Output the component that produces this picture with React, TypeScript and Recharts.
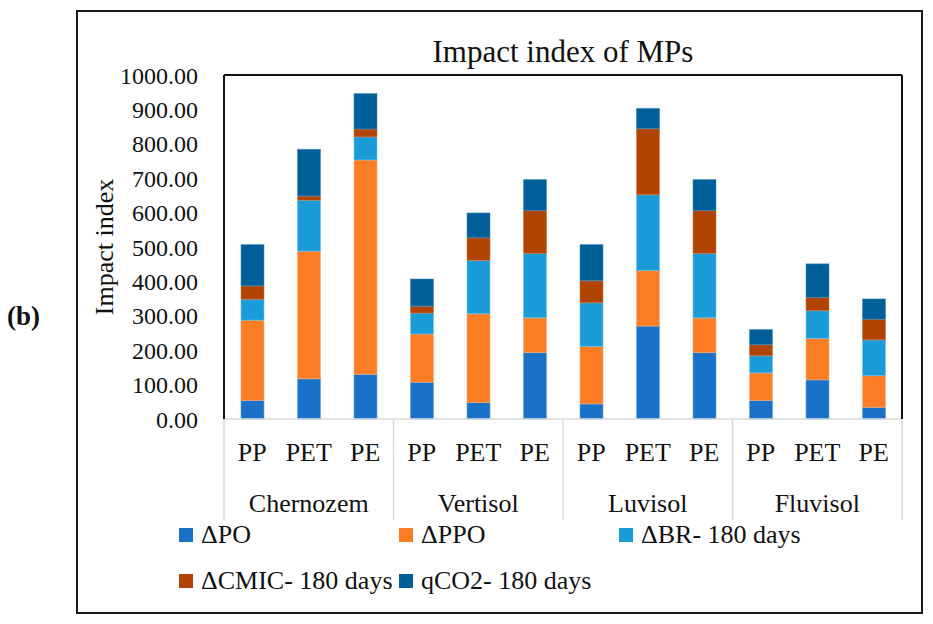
import React from 'react';
import { BarChart, Bar, XAxis, YAxis, Legend, ReferenceLine } from 'recharts';

const soils = ['Chernozem', 'Vertisol', 'Luvisol', 'Fluvisol'];
const plastics = ['PP', 'PET', 'PE'];

const deltaPO = [54, 117, 130, 107, 48, 193, 44, 270, 193, 54, 114, 34];
const deltaPPO = [233, 371, 623, 140, 258, 101, 167, 162, 101, 80, 120, 92];
const deltaBR = [61, 148, 67, 61, 155, 187, 127, 220, 187, 50, 81, 104];
const deltaCMIC = [39, 12, 23, 20, 66, 125, 64, 192, 125, 32, 38, 60];
const qCO2 = [120, 136, 103, 79, 72, 90, 105, 59, 90, 44, 98, 59];

const yTicks = [0, 100, 200, 300, 400, 500, 600, 700, 800, 900, 1000];

const seriesNames = ['ΔPO', 'ΔPPO', 'ΔBR- 180 days', 'ΔCMIC- 180 days', 'qCO2- 180 days'];
const seriesColors = ['#1a72c8', '#fd7d25', '#1b9cd8', '#b14400', '#005f97'];
const seriesStrokes = ['#5ea3e6', '#ffae70', '#6cc3ee', '#d5763f', '#3d8fc4'];

const FONT = "'Liberation Serif', 'Times New Roman', serif";

const data = soils.flatMap((soil, s) =>
  plastics.map((mp, p) => {
    const i = s * 3 + p;
    return {
      key: `${soil}-${mp}`,
      soil,
      mp,
      po: deltaPO[i],
      ppo: deltaPPO[i],
      br: deltaBR[i],
      cmic: deltaCMIC[i],
      qco2: qCO2[i],
    };
  })
);

const seriesKeys = ['po', 'ppo', 'br', 'cmic', 'qco2'];

const MpTick = (props: any) => {
  const { x, y, payload } = props;
  const idx = payload.index ?? props.index;
  const half = typeof payload.offset === 'number' && payload.offset > 0 ? payload.offset : 28.25;
  const row = data[idx];
  return (
    <g>
      {idx % 3 === 0 && (
        <line x1={x - half} x2={x - half} y1={y} y2={y + 101} stroke="#d9d9d9" strokeWidth={1.5} />
      )}
      {idx === data.length - 1 && (
        <line x1={x + half} x2={x + half} y1={y} y2={y + 101} stroke="#d9d9d9" strokeWidth={1.5} />
      )}
      <text x={x} y={y + 42} textAnchor="middle" fontFamily={FONT} fontSize={26} fill="#111">
        {row ? row.mp : ''}
      </text>
    </g>
  );
};

const SoilTick = (props: any) => {
  const { x, y, payload } = props;
  const idx = payload.index ?? props.index;
  const row = data[idx];
  if (idx % 3 !== 1 || !row) return <g />;
  return (
    <text x={x} y={y + 43} textAnchor="middle" fontFamily={FONT} fontSize={26} fill="#111">
      {row.soil}
    </text>
  );
};

const LegendContent = (props: any) => {
  const payload = [...(props.payload || [])].sort(
    (a: any, b: any) => seriesNames.indexOf(a.value) - seriesNames.indexOf(b.value)
  );
  return (
    <div
      style={{
        display: 'grid',
        gridTemplateColumns: '220px 220px 220px',
        gridAutoRows: '46px',
        height: 92,
        fontFamily: FONT,
      }}
    >
      {payload.map((p: any, i: number) => (
        <div key={i} style={{ display: 'flex', alignItems: 'center', height: 46 }}>
          <span
            style={{
              display: 'inline-block',
              width: 14,
              height: 14,
              background: p.color,
              marginRight: 8,
              flex: 'none',
            }}
          />
          <span style={{ fontSize: 26, color: '#111', whiteSpace: 'nowrap', lineHeight: '26px' }}>{p.value}</span>
        </div>
      ))}
    </div>
  );
};

const YLabel = (props: any) => {
  const vb = props.viewBox || { x: 0, y: 75, width: 224, height: 344 };
  const cx = vb.x + 104;
  const cy = vb.y + vb.height / 2;
  return (
    <text
      x={cx}
      y={cy}
      transform={`rotate(-90, ${cx}, ${cy})`}
      textAnchor="middle"
      dominantBaseline="central"
      fontFamily={FONT}
      fontSize={26}
      fill="#111"
    >
      Impact index
    </text>
  );
};

export default function App() {
  return (
    <div
      style={{
        position: 'absolute',
        left: 0,
        top: 0,
        width: 933,
        height: 624,
        background: '#fff',
        fontFamily: FONT,
      }}
    >
      <div
        style={{
          position: 'absolute',
          left: 76,
          top: 10,
          width: 847,
          height: 604,
          border: '2px solid #1a1a1a',
          boxSizing: 'border-box',
        }}
      />
      <div
        style={{
          position: 'absolute',
          left: 7,
          top: 303,
          fontSize: 27,
          lineHeight: '27px',
          fontWeight: 'bold',
          color: '#111',
          whiteSpace: 'nowrap',
        }}
      >
        (b)
      </div>
      <div
        style={{
          position: 'absolute',
          left: 363,
          width: 400,
          top: 37,
          fontSize: 31,
          lineHeight: '30px',
          textAlign: 'center',
          color: '#111',
          whiteSpace: 'nowrap',
        }}
      >
        Impact index of MPs
      </div>
      <div style={{ position: 'absolute', left: 0, top: 0 }}>
        <BarChart
          width={933}
          height={624}
          data={data}
          margin={{ top: 75, right: 0, bottom: 8, left: 0 }}
        >
          <XAxis
            xAxisId="mp"
            dataKey="key"
            interval={0}
            height={50}
            tickLine={false}
            tickSize={0}
            tickMargin={0}
            axisLine={{ stroke: '#d9d9d9', strokeWidth: 1.5 }}
            tick={<MpTick />}
          />
          <XAxis
            xAxisId="soil"
            dataKey="key"
            interval={0}
            height={55}
            tickLine={false}
            tickSize={0}
            tickMargin={0}
            axisLine={false}
            tick={<SoilTick />}
          />
          <YAxis
            yAxisId="left"
            type="number"
            width={224}
            domain={[0, 1000]}
            ticks={yTicks}
            interval={0}
            tickLine={false}
            tickSize={0}
            tickMargin={26}
            tickFormatter={(v: number) => v.toFixed(2)}
            tick={{ fontSize: 24, fontFamily: FONT, fill: '#111' }}
            axisLine={{ stroke: '#111', strokeWidth: 2 }}
            label={<YLabel />}
          />
          <YAxis
            yAxisId="right"
            orientation="right"
            type="number"
            width={31}
            domain={[0, 1000]}
            tick={false}
            tickLine={false}
            axisLine={{ stroke: '#111', strokeWidth: 2 }}
          />
          <ReferenceLine xAxisId="mp" yAxisId="left" y={1000} stroke="#111" strokeWidth={2} />
          {seriesKeys.map((k, i) => (
            <Bar
              key={k}
              xAxisId="mp"
              yAxisId="left"
              dataKey={k}
              name={seriesNames[i]}
              stackId="s"
              fill={seriesColors[i]}
              stroke={seriesStrokes[i]}
              strokeWidth={0.6}
              barSize={23}
              isAnimationActive={false}
            />
          ))}
          <Legend
            verticalAlign="bottom"
            content={<LegendContent />}
            wrapperStyle={{ left: 179, top: 512, bottom: 'auto', width: 700, height: 92 }}
          />
        </BarChart>
      </div>
    </div>
  );
}
